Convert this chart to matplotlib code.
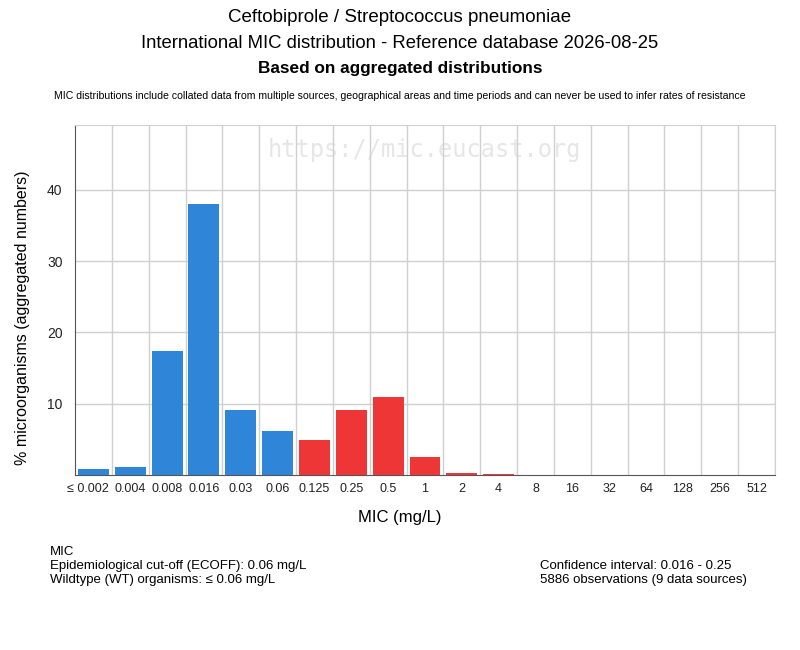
import numpy as np
import matplotlib.pyplot as plt
import matplotlib.transforms as mtransforms

plt.rcParams['font.family'] = ['Liberation Sans', 'DejaVu Sans']

# MIC categories and aggregated percentages
mic_labels = ['≤ 0.002', '0.004', '0.008', '0.016', '0.03', '0.06', '0.125', '0.25', '0.5',
              '1', '2', '4', '8', '16', '32', '64', '128', '256', '512']
percent = [0.85, 1.1, 17.4, 38.0, 9.1, 6.2, 4.9, 9.1, 11.0,
           2.5, 0.3, 0.15, 0, 0, 0, 0, 0, 0, 0]
ecoff_index = 5  # 0.06 mg/L, last wildtype category

blue = '#2f86d9'
red = '#ee3636'

fig = plt.figure(figsize=(8, 6.5), dpi=100)
ax = fig.add_axes([75 / 800, 175 / 650, 700 / 800, 350 / 650])

x = np.arange(len(mic_labels))
colors = [blue if i <= ecoff_index else red for i in x]
ax.bar(x, percent, width=0.84, color=colors, zorder=3)

ax.set_xlim(-0.5, len(mic_labels) - 0.5)
ax.set_ylim(0, 49.1)
ax.set_xticks(x)
ax.set_xticklabels(mic_labels)
ax.set_yticks([10, 20, 30, 40])
ax.tick_params(axis='both', length=0, labelsize=10, colors='#222222')
ax.tick_params(axis='x', pad=6, labelsize=9)
ax.tick_params(axis='y', pad=9)

# first label sits a little left in the reference
first = ax.get_xticklabels()[0]
first.set_transform(first.get_transform() + mtransforms.ScaledTranslation(-6 / 100, 0, fig.dpi_scale_trans))

# vertical grid lines between categories
ax.set_xticks(np.arange(len(mic_labels)) + 0.5, minor=True)
ax.tick_params(axis='x', which='minor', length=0)
ax.grid(axis='x', which='minor', color='#d0d0d0', linewidth=1, zorder=1)
ax.grid(axis='y', which='major', color='#d0d0d0', linewidth=1, zorder=1)

for side in ['top', 'right']:
    ax.spines[side].set_color('#d0d0d0')
for side in ['left', 'bottom']:
    ax.spines[side].set_color('#555555')

ax.set_xlabel('MIC (mg/L)', fontsize=12)
ax.xaxis.set_label_coords((400 - 75) / 700, -(510 - 475) / 350)
ax.set_ylabel('% microorganisms (aggregated numbers)', fontsize=11.5)
ax.yaxis.set_label_coords((30 - 75) / 700, (475 - 318) / 350)

ax.text((425 - 75) / 700, (475 - 150) / 350, 'https://mic.eucast.org', transform=ax.transAxes,
        ha='center', va='center', fontsize=17, color='#e6e6e6', zorder=0,
        family=['DejaVu Sans Mono'])

# titles
fig.text(0.5, 1 - 18 / 650, 'Ceftobiprole / Streptococcus pneumoniae', ha='center', va='center', fontsize=13.5)
fig.text(0.5, 1 - 44 / 650, 'International MIC distribution - Reference database 2026-08-25',
         ha='center', va='center', fontsize=13.3)
fig.text(0.5, 1 - 69 / 650, 'Based on aggregated distributions', ha='center', va='center',
         fontsize=12.4, fontweight='bold')
fig.text(0.5, 1 - 96 / 650,
         'MIC distributions include collated data from multiple sources, geographical areas and time periods '
         'and can never be used to infer rates of resistance',
         ha='center', va='center', fontsize=7.6)

# footer notes
left_notes = ['MIC', 'Epidemiological cut-off (ECOFF): 0.06 mg/L', 'Wildtype (WT) organisms: ≤ 0.06 mg/L']
for i, line in enumerate(left_notes):
    fig.text(50 / 800, 1 - (552 + 14 * i) / 650, line, ha='left', va='center', fontsize=9.5)
right_notes = ['Confidence interval: 0.016 - 0.25', '5886 observations (9 data sources)']
for i, line in enumerate(right_notes):
    fig.text(540 / 800, 1 - (566 + 14 * i) / 650, line, ha='left', va='center', fontsize=9.5)

fig.savefig('out.png', dpi=100)
